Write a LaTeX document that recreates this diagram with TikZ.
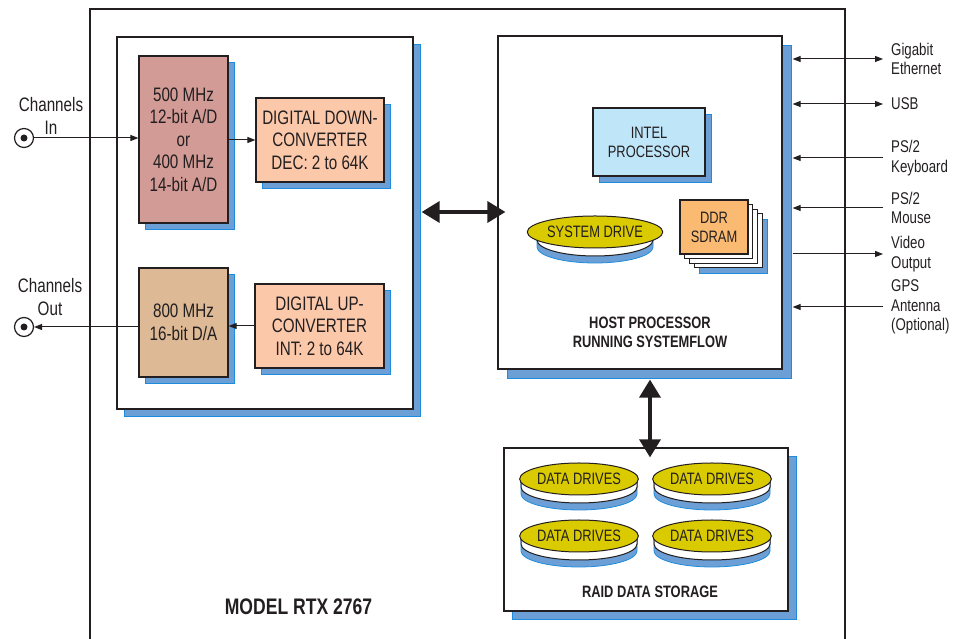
\documentclass[tikz,border=0pt]{standalone}
\usepackage{fontspec}
\setmainfont{Liberation Sans}[FakeStretch=0.78]
\usetikzlibrary{positioning, calc, arrows.meta, shapes.geometric, shadows}
\definecolor{ink}{RGB}{35,31,32}
\definecolor{shadowblue}{RGB}{108,159,213}
\definecolor{shadowedge}{RGB}{30,140,220}
\definecolor{adcfill}{RGB}{210,155,150}
\definecolor{dacfill}{RGB}{221,185,150}
\definecolor{convfill}{RGB}{252,200,170}
\definecolor{cpufill}{RGB}{190,229,248}
\definecolor{ddrfill}{RGB}{250,186,114}
\definecolor{diskfill}{RGB}{218,202,0}
\tikzstyle{Block} = [draw=ink, line width=1.2pt, fill=white, inner sep=2pt,
align=center, text=ink, font=\fontsize{19.5}{22.5}\selectfont]
\tikzstyle{Small} = [font=\fontsize{16.5}{19}\selectfont]
\tikzstyle{Title} = [text=ink, align=center, font=\fontsize{16.5}{19}\selectfont\bfseries]
\tikzstyle{Port} = [anchor=west, align=left, inner xsep=8pt, inner ysep=4pt, text=ink,
font=\fontsize{17}{19.5}\selectfont]
\tikzstyle{Jack} = [circle, draw=ink, line width=1.2pt, minimum size=19pt, inner sep=0pt,
path picture={\fill[ink] (path picture bounding box.center) circle (3.5pt);}]
\tikzstyle{Disk} = [ellipse, draw=ink, line width=1pt, fill=diskfill, minimum width=116pt,
minimum height=32pt, inner sep=0pt, text=ink, font=\fontsize{16.5}{19}\selectfont]
\tikzstyle{Sig} = [draw=ink, line width=1pt, -{Triangle[length=8pt,width=6pt]}]
\tikzstyle{DSig} = [draw=ink, line width=1pt,
{Triangle[length=8pt,width=6pt]}-{Triangle[length=8pt,width=6pt]}]
\tikzstyle{Big} = [draw=ink, line width=3.5pt,
{Triangle[length=18pt,width=21pt]}-{Triangle[length=18pt,width=21pt]}]
\tikzset{Shadow/.style={drop shadow={shadow xshift=#1, shadow yshift=-#1,
fill=shadowblue, draw=shadowedge, line width=0.8pt, opacity=1}},
Shadow/.default=6pt}
\tikzstyle{Stack} = [drop shadow={shadow xshift=19pt, shadow yshift=-19pt, fill=shadowblue,
draw=shadowedge, line width=0.8pt, opacity=1},
copy shadow={shadow xshift=14pt, shadow yshift=-14pt, fill=white, draw=ink, line width=1pt},
copy shadow={shadow xshift=9.5pt, shadow yshift=-9.5pt, fill=white, draw=ink, line width=1pt},
copy shadow={shadow xshift=4.7pt, shadow yshift=-4.7pt, fill=white, draw=ink, line width=1pt}]

% disk with its side band: name, position, text
\newcommand{\drive}[3]{%
  \begin{scope}[shift={#2}]
    \filldraw[fill=shadowblue, draw=shadowedge, line width=0.8pt] (-58,0) -- (-58,-15)
      arc[start angle=180, end angle=360, x radius=58, y radius=16] -- (58,0) -- cycle;
    \filldraw[fill=white, draw=ink, line width=1pt] (-58,0) -- (-58,-8)
      arc[start angle=180, end angle=360, x radius=58, y radius=16] -- (58,0) -- cycle;
  \end{scope}
  \node[Disk] (#1) at #2 {#3};}

\begin{document}
\begin{tikzpicture}[x=1pt, y=1pt]
    \useasboundingbox (0,0) rectangle (963,639);
    \node[draw=ink, line width=2pt, minimum width=755pt, minimum height=640pt] (chassis) at (467.5,310) {};

    % tuner board
    \node[Block, Shadow=7pt, minimum width=296pt, minimum height=372pt] (dsp) at (265,416) {};
    \node[Block, Shadow, fill=adcfill, minimum width=89pt, minimum height=167pt] (adc) at (183.5,499.5)
      {500 MHz\\12-bit A/D\\or\\400 MHz\\14-bit A/D};
    \node[Block, Shadow, fill=convfill, minimum width=128pt, minimum height=84pt] (ddc) at (320,499)
      {DIGITAL DOWN-\\CONVERTER\\DEC: 2 to 64K};
    \node[Block, Shadow, fill=dacfill, minimum width=89pt, minimum height=109pt] (dac) at (183.5,316.5)
      {800 MHz\\16-bit D/A};
    \node[Block, Shadow, fill=convfill, minimum width=129pt, minimum height=84pt] (duc) at (319.5,313)
      {DIGITAL UP-\\CONVERTER\\INT: 2 to 64K};

    \node[Jack] (jin) at (24,501) {};
    \node[Jack] (jout) at (24,312) {};
    \node[text=ink, align=center, font=\fontsize{19.5}{22.5}\selectfont] (inlabel) at (51,523) {Channels\\In};
    \node[text=ink, align=center, font=\fontsize{19.5}{22.5}\selectfont] (outlabel) at (50,342) {Channels\\Out};

    \draw[Sig] (jin.east) -- (jin.east -| adc.west);
    \draw[Sig] (adc.east |- ddc.west) -- (ddc.west);
    \draw[Sig] (duc.west) -- (duc.west -| dac.east);
    \draw[Sig] (dac.west |- jout) -- (jout.east);

    % host
    \node[Block, Shadow=9pt, minimum width=284pt, minimum height=333pt] (host) at (640,436.5) {};
    \node[Block, Small, Shadow, fill=cpufill, minimum width=112pt, minimum height=68pt] (cpu) at (649,497)
      {INTEL\\PROCESSOR};
    \node[Block, Small, Stack, fill=ddrfill, minimum width=68pt, minimum height=54pt] (ddr) at (714,412)
      {DDR\\SDRAM};
    \drive{sysdrive}{(595,407)}{SYSTEM DRIVE}
    \node[Title] (hostlabel) at (650,306.5) {HOST PROCESSOR\\RUNNING SYSTEMFLOW};

    % storage
    \node[Block, Shadow=8pt, minimum width=284pt, minimum height=163pt] (raid) at (646,109.5) {};
    \drive{drive1}{(579,160)}{DATA DRIVES}
    \drive{drive2}{(712,160)}{DATA DRIVES}
    \drive{drive3}{(579,103)}{DATA DRIVES}
    \drive{drive4}{(712,103)}{DATA DRIVES}
    \node[Title] (raidlabel) at (650,47) {RAID DATA STORAGE};

    \node[text=ink, font=\fontsize{22.5}{26}\selectfont\bfseries] (model) at (298.5,32) {MODEL RTX 2767};

    \draw[Big] ([shift={(8,11)}]dsp.east) -- ([shift={(8,11)}]dsp.east -| host.west);
    \draw[Big] ([shift={(10,-10)}]host.south) -- ([shift={(10,-10)}]host.south |- raid.north);

    % ports
    \node[Port] (eth) at (883,580) {Gigabit\\Ethernet};
    \node[Port] (usb) at (883,535) {USB};
    \node[Port] (kbd) at (883,481) {PS/2\\Keyboard};
    \node[Port] (mouse) at (883,431) {PS/2\\Mouse};
    \node[Port] (video) at (883,385) {Video\\Output};
    \node[Port] (gps) at (883,332) {GPS\\Antenna\\(Optional)};

    \draw[DSig] ([xshift=10]host.east |- eth.west) -- (eth.west);
    \draw[DSig] ([xshift=10]host.east |- usb.west) -- (usb.west);
    \draw[Sig] (kbd.west) -- ([xshift=10]host.east |- kbd.west);
    \draw[Sig] (mouse.west) -- ([xshift=10]host.east |- mouse.west);
    \draw[Sig] ([xshift=10]host.east |- video.west) -- (video.west);
    \draw[Sig] (gps.west) -- ([xshift=10]host.east |- gps.west);
\end{tikzpicture}
\end{document}
